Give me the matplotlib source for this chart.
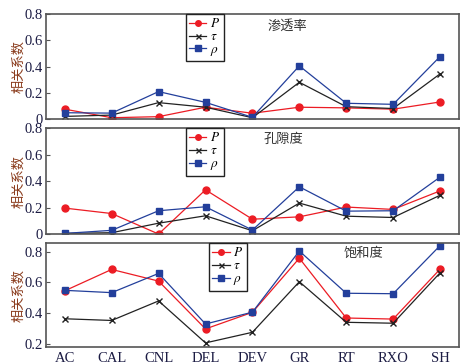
import matplotlib.pyplot as plt

plt.rcParams['font.family'] = ['Liberation Serif', 'Noto Sans CJK SC']
plt.rcParams['mathtext.fontset'] = 'stix'

logs = ['AC', 'CAL', 'CNL', 'DEL', 'DEV', 'GR', 'RT', 'RXO', 'SH']

# 渗透率
perm_P = [0.075, 0.01, 0.018, 0.09, 0.044, 0.09, 0.085, 0.075, 0.13]
perm_tau = [0.02, 0.03, 0.125, 0.09, 0.01, 0.28, 0.094, 0.08, 0.344]
perm_rho = [0.048, 0.045, 0.209, 0.127, 0.013, 0.405, 0.12, 0.112, 0.476]

# 孔隙度
poro_P = [0.196, 0.155, 0.0, 0.334, 0.112, 0.13, 0.204, 0.186, 0.326]
poro_tau = [0.005, 0.01, 0.082, 0.138, 0.025, 0.234, 0.135, 0.125, 0.293]
poro_rho = [0.005, 0.028, 0.176, 0.206, 0.03, 0.357, 0.173, 0.176, 0.43]

# 饱和度
sat_P = [0.545, 0.684, 0.608, 0.297, 0.405, 0.757, 0.368, 0.361, 0.686]
sat_tau = [0.363, 0.352, 0.479, 0.206, 0.275, 0.604, 0.34, 0.334, 0.662]
sat_rho = [0.548, 0.533, 0.658, 0.329, 0.406, 0.804, 0.529, 0.526, 0.839]

panels = [
    ('渗透率', perm_P, perm_tau, perm_rho, (0, 0.8), [0, 0.2, 0.4, 0.6, 0.8], (0.586, 0.886)),
    ('孔隙度', poro_P, poro_tau, poro_rho, (0, 0.8), [0, 0.2, 0.4, 0.6, 0.8], (0.574, 0.896)),
    ('饱和度', sat_P, sat_tau, sat_rho, (0.18, 0.855), [0.2, 0.4, 0.6, 0.8], (0.768, 0.904)),
]
boxes = [(0.0985, 0.673, 0.884, 0.2885),
         (0.0985, 0.357, 0.884, 0.291),
         (0.0985, 0.047, 0.884, 0.285)]
legend_pos = [(0.339, 1.0), (0.339, 1.0), (0.395, 1.0)]

red = '#ec1c24'
blue = '#233f9b'
tick_col = '#1c1c44'
lab_col = '#8a3b1c'

fig = plt.figure(figsize=(4.67, 3.64), dpi=100)
x = list(range(len(logs)))
for i, (title, P, tau, rho, ylim, yt, tpos) in enumerate(panels):
    ax = fig.add_axes(boxes[i])
    ax.plot(x, P, color=red, marker='o', ms=5, lw=0.9, label='$P$')
    ax.plot(x, tau, color='#222222', marker='x', ms=4.5, mew=1.0, lw=0.9, label=r'$\tau$')
    ax.plot(x, rho, color=blue, marker='s', ms=5, lw=0.9, label=r'$\rho$')
    ax.set_xlim(-0.4, 8.4)
    ax.set_ylim(*ylim)
    ax.set_yticks(yt)
    ax.set_yticklabels(['0' if v == 0 else f'{v:.1f}' for v in yt])
    ax.tick_params(axis='y', direction='in', length=3, labelsize=10.5, colors='#555555',
                   labelcolor=tick_col, pad=2)
    ax.set_xticks(x)
    if i == 2:
        ax.set_xticklabels(logs)
    else:
        ax.set_xticklabels([])
    ax.tick_params(axis='x', length=0, labelsize=10.5, labelcolor=tick_col, pad=4)
    ax.set_ylabel('相关系数', family=['Noto Sans CJK SC'], fontsize=9.5, color=lab_col, labelpad=0)
    for s in ax.spines.values():
        s.set_color('#555555')
        s.set_linewidth(1.2)
    ax.text(tpos[0], tpos[1], title, transform=ax.transAxes, ha='center', va='center',
            family=['Noto Sans CJK SC'], fontsize=9.5, color='#333333')
    leg = ax.legend(loc='upper left', bbox_to_anchor=legend_pos[i], fontsize=9.5,
                    handlelength=1.3, handletextpad=0.3, labelspacing=0.05,
                    borderpad=0.25, borderaxespad=0, fancybox=False, framealpha=1,
                    markerscale=0.8)
    leg.get_frame().set_edgecolor('#222222')
    leg.get_frame().set_linewidth(1.0)

fig.savefig('out.png', dpi=100)
